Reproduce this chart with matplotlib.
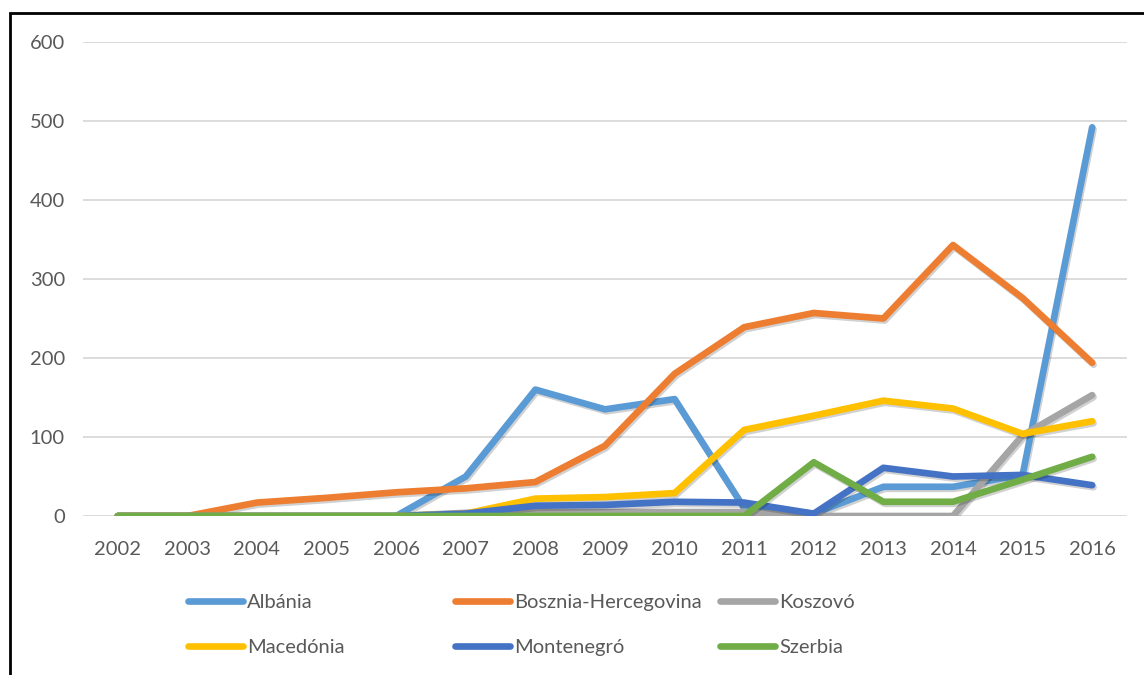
import matplotlib.pyplot as plt
import matplotlib.patheffects as pe
from matplotlib.patches import Rectangle

years = list(range(2002, 2017))

albania    = [0, 0, 0, 0, 0, 50, 160, 135, 148, 10, 3, 37, 37, 52, 492]
bosznia    = [0, 0, 17, 23, 30, 35, 43, 89, 180, 239, 257, 250, 343, 276, 194]
koszovo    = [0, 0, 0, 0, 0, 4, 5, 5, 5, 5, 0, 0, 0, 102, 153]
macedonia  = [0, 0, 0, 0, 0, 3, 22, 24, 29, 109, 127, 146, 136, 104, 120]
montenegro = [0, 0, 0, 0, 0, 3, 13, 14, 18, 17, 3, 61, 50, 52, 39]
szerbia    = [0, 0, 0, 0, 0, 0, 0, 0, 0, 0, 68, 18, 18, 46, 75]

names = ['Albánia', 'Bosznia-Hercegovina', 'Koszovó', 'Macedónia', 'Montenegró', 'Szerbia']
colors = ['#5B9BD5', '#ED7D31', '#A5A5A5', '#FFC000', '#4472C4', '#70AD47']
series = [albania, bosznia, koszovo, macedonia, montenegro, szerbia]

plt.rcParams['font.family'] = ['Lato', 'DejaVu Sans']

fig = plt.figure(figsize=(11.44, 6.75), dpi=100)
ax = fig.add_axes([83 / 1144, 159 / 675, 1044 / 1144, 474 / 675])

shadow = [pe.SimpleLineShadow(offset=(1, -1.5), shadow_color='black', alpha=0.18), pe.Normal()]

lines = []
for vals, name, c in zip(series, names, colors):
    ln, = ax.plot(years, vals, color=c, lw=4.8, label=name,
                  solid_capstyle='round', solid_joinstyle='round',
                  path_effects=shadow)
    lines.append(ln)

ax.set_xlim(2001.5, 2016.5)
ax.set_ylim(0, 600)
ax.set_yticks(range(0, 601, 100))
ax.set_xticks(years)
ax.yaxis.grid(True, color='#d9d9d9', lw=1.3)
ax.set_axisbelow(True)
for s in ax.spines.values():
    s.set_visible(False)
ax.tick_params(length=0, labelsize=14.5, labelcolor='#595959')
ax.tick_params(axis='x', pad=18)
ax.tick_params(axis='y', pad=13)

# legend: three columns placed separately
col_x = [188 / 1144, 455 / 1144, 720 / 1144]
for i, x in enumerate(col_x):
    leg = fig.legend(handles=[lines[i], lines[i + 3]], loc='upper left',
                     bbox_to_anchor=(x, 1 - 594 / 675), frameon=False,
                     fontsize=14.5, handlelength=2.75, handletextpad=0.2,
                     labelspacing=1.4, borderaxespad=0, borderpad=0)
    for t in leg.get_texts():
        t.set_color('#595959')
    for h in leg.legend_handles:
        h.set_linewidth(4.8)
        h.set_path_effects([])

# outer frame
fig.patches.append(Rectangle((10 / 1144, -0.05), 1.2, 1 - 13 / 675 + 0.05,
                             transform=fig.transFigure, fill=False,
                             edgecolor='black', lw=2))

fig.savefig('out.png', dpi=100)
